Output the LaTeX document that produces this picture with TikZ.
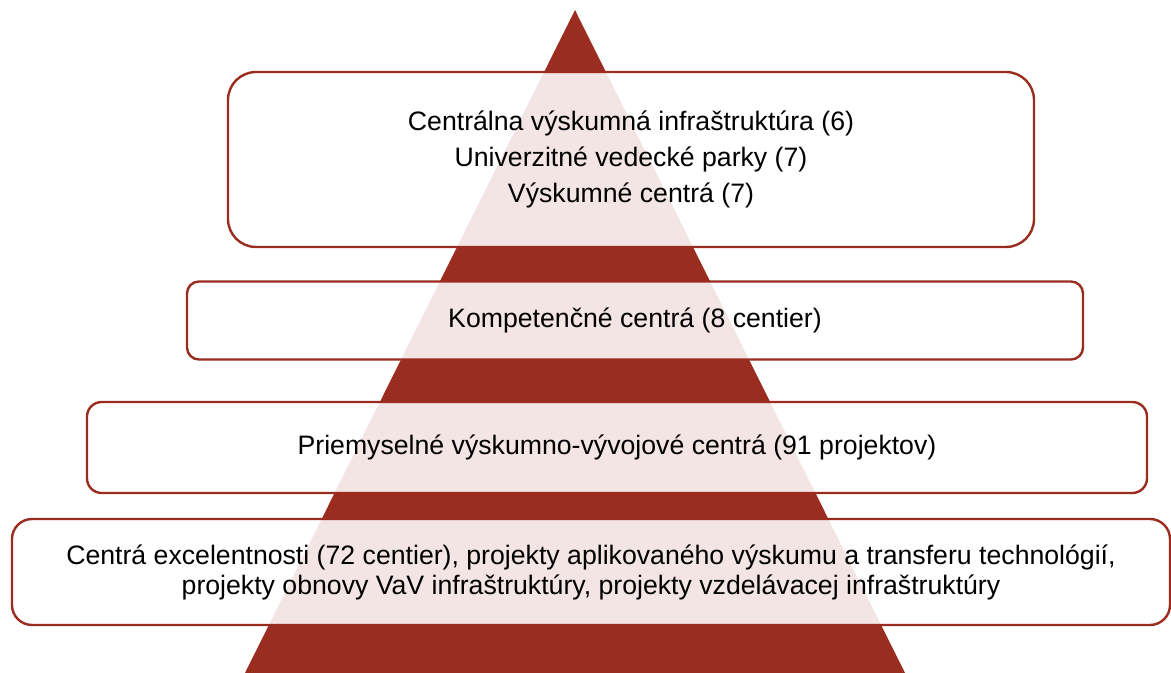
\documentclass[tikz,border=0pt]{standalone}
\usepackage{fontspec}
\setmainfont{Liberation Sans}
\definecolor{pyr}{HTML}{9B2D20}
\begin{document}
\begin{tikzpicture}[x=0.75pt,y=-0.75pt,
  tier/.style={draw=pyr, line width=1.8pt, fill=white, fill opacity=0.88, text opacity=1,
    align=center, inner sep=0pt, font=\fontsize{20}{27}\selectfont, text=black}]
\useasboundingbox (0,0) rectangle (1171,673);
\fill[pyr] (575,10) -- (905,673) -- (245,673) -- cycle;
\node[tier, rounded corners=21pt, minimum width=604.5pt, minimum height=131.25pt] (t1) at (631,159.5)
  {Centrálna výskumná infraštruktúra (6)\\Univerzitné vedecké parky (7)\\Výskumné centrá (7)};
\node[tier, rounded corners=9pt, minimum width=672pt, minimum height=58.5pt] (t2) at (635,320.5)
  {Kompetenčné centrá (8 centier)};
\node[tier, rounded corners=11pt, minimum width=795pt, minimum height=68.25pt] (t3) at (617,447.5)
  {Priemyselné výskumno-vývojové centrá (91 projektov)};
\node[tier, rounded corners=15pt, minimum width=868.5pt, minimum height=79.5pt,
  font=\fontsize{20}{22.5}\selectfont] (t4) at (591,572)
  {Centrá excelentnosti (72 centier), projekty aplikovaného výskumu a transferu technológií,\\projekty obnovy VaV infraštruktúry, projekty vzdelávacej infraštruktúry};
\end{tikzpicture}
\end{document}
